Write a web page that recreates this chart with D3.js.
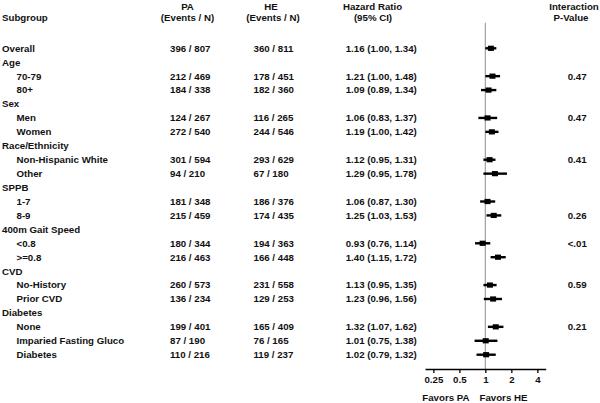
<!DOCTYPE html>
<html><head><meta charset="utf-8">
<script src="https://cdn.jsdelivr.net/npm/d3@7"></script>
<style>body{margin:0;background:#fff}svg{display:block}text{font-family:"Liberation Sans",Arial,sans-serif;font-weight:bold;font-size:9.7px;fill:#111}</style>
</head><body><svg id="c" width="600" height="403"></svg>
<script>
const labels = ["Overall","Age","70-79","80+","Sex","Men","Women","Race/Ethnicity","Non-Hispanic White","Other","SPPB","1-7","8-9","400m Gait Speed","<0.8",">=0.8","CVD","No-History","Prior CVD","Diabetes","None","Imparied Fasting Gluco","Diabetes"];
const indent = [0,0,1,1,0,1,1,0,1,1,0,1,1,0,1,1,0,1,1,0,1,1,1];
const paEvents = ["396 / 807","","212 / 469","184 / 338","","124 / 267","272 / 540","","301 / 594","94 / 210","","181 / 348","215 / 459","","180 / 344","216 / 463","","260 / 573","136 / 234","","199 / 401","87 / 190","110 / 216"];
const heEvents = ["360 / 811","","178 / 451","182 / 360","","116 / 265","244 / 546","","293 / 629","67 / 180","","186 / 376","174 / 435","","194 / 363","166 / 448","","231 / 558","129 / 253","","165 / 409","76 / 165","119 / 237"];
const hr =  [1.16,null,1.21,1.09,null,1.06,1.19,null,1.12,1.29,null,1.06,1.25,null,0.93,1.40,null,1.13,1.23,null,1.32,1.01,1.02];
const lo =  [1.00,null,1.00,0.89,null,0.83,1.00,null,0.95,0.95,null,0.87,1.03,null,0.76,1.15,null,0.95,0.96,null,1.07,0.75,0.79];
const hi =  [1.34,null,1.48,1.34,null,1.37,1.42,null,1.31,1.78,null,1.30,1.53,null,1.14,1.72,null,1.35,1.56,null,1.62,1.38,1.32];
const pval = ["","","0.47","","","0.47","","","0.41","","","","0.26","","<.01","","","0.59","","","0.21","",""];
const xTicks = [0.25,0.5,1,2,4];
const xTickLabels = ["0.25","0.5","1","2","4"];

const svg = d3.select("#c");
const y = d3.scaleLinear().domain([0, labels.length-1]).range([48.3, 354.7]);
const x = d3.scaleLog().base(2).domain([0.2,5]).range([425,545.7]);
const fmt = d3.format(".2f");

// headers
const hdr = [
  {t:"Subgroup", x:2, y:17.5, a:"start"},
  {t:"PA", x:187.5, y:6.5, a:"middle"},
  {t:"(Events / N)", x:187.5, y:17.5, a:"middle"},
  {t:"HE", x:271, y:6.5, a:"middle"},
  {t:"(Events / N)", x:273, y:17.5, a:"middle"},
  {t:"Hazard Ratio", x:372.5, y:6.5, a:"middle"},
  {t:"(95% CI)", x:373, y:17.5, a:"middle"},
  {t:"Interaction", x:574, y:6.5, a:"middle"},
  {t:"P-Value", x:571, y:17.5, a:"middle"}
];
svg.selectAll("text.h").data(hdr).join("text").attr("class","h")
  .attr("x",d=>d.x).attr("y",d=>d.y).attr("dy","0.35em").attr("text-anchor",d=>d.a).text(d=>d.t);

const rows = svg.selectAll("g.r").data(labels.map((l,i)=>({i,l}))).join("g").attr("class","r")
  .attr("transform",d=>`translate(0,${y(d.i)})`);
rows.append("text").attr("x",d=>indent[d.i]?16.5:2).attr("dy","0.35em").text(d=>d.l);
rows.append("text").attr("x",170).attr("dy","0.35em").text(d=>paEvents[d.i]);
rows.append("text").attr("x",253.5).attr("dy","0.35em").text(d=>heEvents[d.i]);
rows.append("text").attr("x",345.7).attr("dy","0.35em").text(d=>hr[d.i]==null?"":`${fmt(hr[d.i])} (${fmt(lo[d.i])}, ${fmt(hi[d.i])})`);
rows.append("text").attr("x",567.7).attr("dy","0.35em").text(d=>pval[d.i]);

// reference line
svg.append("line").attr("x1",x(1)).attr("x2",x(1)).attr("y1",22.7).attr("y2",369)
  .attr("stroke","#a0a0a0").attr("stroke-width",1.2);

// CIs
const est = hr.map((h,i)=>({i,h,lo:lo[i],hi:hi[i]})).filter(d=>d.h!=null);
svg.selectAll("line.ci").data(est).join("line").attr("class","ci")
  .attr("x1",d=>x(d.lo)).attr("x2",d=>x(d.hi)).attr("y1",d=>y(d.i)).attr("y2",d=>y(d.i))
  .attr("stroke","#000").attr("stroke-width",2.4);
svg.selectAll("rect.pt").data(est).join("rect").attr("class","pt")
  .attr("x",d=>x(d.h)-3).attr("y",d=>y(d.i)-2.6).attr("width",6).attr("height",5.2).attr("fill","#000");

// axis
const ax = svg.append("g").attr("transform","translate(0,369)")
  .call(d3.axisBottom(x).tickValues(xTicks).tickFormat((d,i)=>xTickLabels[i]).tickSize(4).tickSizeOuter(0).tickPadding(3));
ax.select(".domain").attr("stroke","#000").attr("stroke-width",1.3);
ax.selectAll(".tick line").attr("stroke","#000").attr("stroke-width",1.3);
ax.selectAll(".tick text").attr("font-family",null).attr("font-size",null).style("fill","#111");
svg.append("text").attr("x",469.5).attr("y",397.5).attr("dy","0.35em").attr("text-anchor","end").text("Favors PA");
svg.append("text").attr("x",479.5).attr("y",397.5).attr("dy","0.35em").attr("text-anchor","start").text("Favors HE");
</script></body></html>
